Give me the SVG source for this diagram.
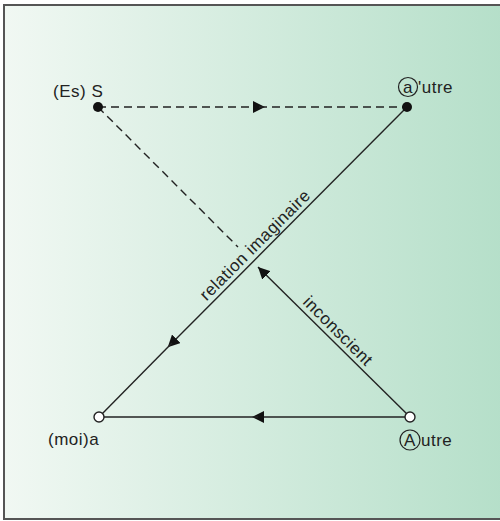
<svg xmlns="http://www.w3.org/2000/svg" width="500" height="521" viewBox="0 0 500 521">
<defs>
<linearGradient id="bg" x1="0" y1="0" x2="1" y2="0">
<stop offset="0" stop-color="#f1f8f3"/>
<stop offset="1" stop-color="#b5dfc9"/>
</linearGradient>
<marker id="ah" viewBox="0 0 10 10" refX="5" refY="5" markerWidth="12" markerHeight="12" markerUnits="userSpaceOnUse" orient="auto">
<path d="M0,0 L10,5 L0,10 z" fill="#111"/>
</marker>
<marker id="tip" viewBox="0 0 10 10" refX="10" refY="5" markerWidth="12" markerHeight="12" markerUnits="userSpaceOnUse" orient="auto">
<path d="M0,0 L10,5 L0,10 z" fill="#111"/>
</marker>
<style>
.t{font-family:"Liberation Sans",Arial,sans-serif;font-size:17px;letter-spacing:0.5px;fill:#222}
.s{stroke:#222;stroke-width:1.4;fill:none}
.d{stroke-dasharray:8,5}
.ring{fill:none;stroke:#222;stroke-width:1.2}
</style>
</defs>
<rect x="4" y="5" width="500" height="514" fill="url(#bg)" stroke="#555" stroke-width="2"/>
<g id="connectors">
<line class="s d" x1="98" y1="107" x2="259" y2="107" marker-end="url(#ah)"/>
<line class="s d" x1="259" y1="107" x2="407" y2="107"/>
<line class="s d" x1="98" y1="107" x2="238" y2="247"/>
<line class="s" x1="407" y1="107" x2="172" y2="343" marker-end="url(#ah)"/>
<line class="s" x1="172" y1="343" x2="99" y2="417"/>
<line class="s" x1="410" y1="417" x2="258" y2="417" marker-end="url(#ah)"/>
<line class="s" x1="258" y1="417" x2="99" y2="417"/>
<line class="s" x1="410" y1="417" x2="258" y2="267" marker-end="url(#tip)"/>
<text class="t" transform="translate(259,249) rotate(-45)" text-anchor="middle">relation imaginaire</text>
<text class="t" transform="translate(334,335) rotate(45)" text-anchor="middle">inconscient</text>
</g>
<g id="node-S">
<circle cx="98" cy="107" r="5" fill="#111"/>
<text class="t" x="53" y="97">(Es) S</text>
</g>
<g id="node-autre">
<circle cx="407" cy="107" r="5" fill="#111"/>
<circle class="ring" cx="408" cy="87" r="9.5"/>
<text class="t" x="408" y="93" text-anchor="middle">a</text>
<text class="t" x="418" y="93">'utre</text>
</g>
<g id="node-moi">
<circle cx="99" cy="417" r="5" fill="#fff" stroke="#222" stroke-width="1.4"/>
<text class="t" x="48" y="445">(moi)a</text>
</g>
<g id="node-Autre">
<circle cx="410" cy="417" r="5" fill="#fff" stroke="#222" stroke-width="1.4"/>
<circle class="ring" cx="410" cy="440" r="10"/>
<text class="t" x="410" y="446" text-anchor="middle">A</text>
<text class="t" x="421" y="446">utre</text>
</g>
</svg>
